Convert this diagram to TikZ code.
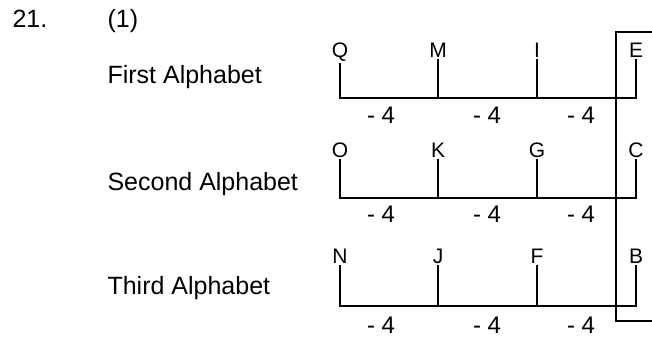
\documentclass[tikz,border=0pt]{standalone}
\usepackage{fontspec}
\setmainfont{Liberation Sans}

\begin{document}
\begin{tikzpicture}[x=1pt, y=-1pt, line width=1.1pt,
  title/.style={font=\fontsize{25}{30}\selectfont, inner sep=0pt, anchor=base west},
  letter/.style={font=\fontsize{21}{25}\selectfont, inner sep=1pt, anchor=base},
  diff/.style={font=\fontsize{24}{28}\selectfont, inner sep=0pt, anchor=base}]
\useasboundingbox (0,0) rectangle (652,338);
\node[title] (num) at (12,27) {21.};
\node[title] (opt) at (107,27) {(1)};
\node[title] (first) at (107,83) {First Alphabet};
\node[title] (second) at (107,190) {Second Alphabet};
\node[title] (third) at (107,294) {Third Alphabet};

\node[letter] (Q) at (340,57) {Q};
\node[letter] (M) at (438,57) {M};
\node[letter] (I) at (537,57) {I};
\node[letter] (E) at (636,57) {E};
\coordinate (q) at (340,98);
\coordinate (m) at (438,98);
\coordinate (i) at (537,98);
\coordinate (e) at (636,98);
\draw (Q) -- (q) -- (e) -- (E);
\draw (M) -- (m);
\draw (I) -- (i);
\node[diff] (d11) at (381,123) {- 4};
\node[diff] (d12) at (487,123) {- 4};
\node[diff] (d13) at (581,123) {- 4};

\node[letter] (O) at (340,157) {O};
\node[letter] (K) at (438,157) {K};
\node[letter] (G) at (537,157) {G};
\node[letter] (C) at (636,157) {C};
\coordinate (o) at (340,198);
\coordinate (k) at (438,198);
\coordinate (g) at (537,198);
\coordinate (c) at (636,198);
\draw (O) -- (o) -- (c) -- (C);
\draw (K) -- (k);
\draw (G) -- (g);
\node[diff] (d21) at (381,222) {- 4};
\node[diff] (d22) at (487,222) {- 4};
\node[diff] (d23) at (581,222) {- 4};

\node[letter] (N) at (340,263) {N};
\node[letter] (J) at (438,263) {J};
\node[letter] (F) at (537,263) {F};
\node[letter] (B) at (636,263) {B};
\coordinate (n) at (340,306);
\coordinate (j) at (438,306);
\coordinate (f) at (537,306);
\coordinate (b) at (636,306);
\draw (N) -- (n) -- (b) -- (B);
\draw (J) -- (j);
\draw (F) -- (f);
\node[diff] (d31) at (381,333) {- 4};
\node[diff] (d32) at (487,333) {- 4};
\node[diff] (d33) at (581,333) {- 4};

\coordinate (top) at (652,32);
\coordinate (topleft) at (616,32);
\coordinate (botleft) at (616,321);
\coordinate (bot) at (652,321);
\draw (top) -- (topleft) -- (botleft) -- (bot);
\end{tikzpicture}
\end{document}
